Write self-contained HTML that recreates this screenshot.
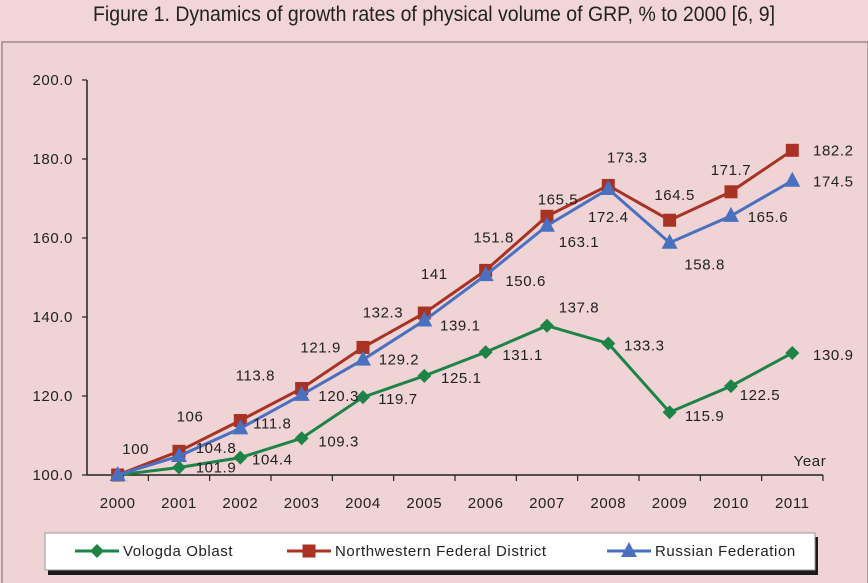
<!DOCTYPE html>
<html><head><meta charset="utf-8"><style>
html,body{margin:0;padding:0;background:#f1d5d7;}
svg{display:block;font-family:"Liberation Sans",sans-serif;}
#axes text,#series text,#legend text,#xtitle{letter-spacing:0.6px;}
</style></head><body>
<svg id="chart" width="868" height="583" viewBox="0 0 868 583" xmlns="http://www.w3.org/2000/svg">
<rect x="0" y="0" width="868" height="583" fill="#f1d5d7"/>
<text x="434" y="21" text-anchor="middle" font-size="21" fill="#222" textLength="682" lengthAdjust="spacingAndGlyphs">Figure 1. Dynamics of growth rates of physical volume of GRP, % to 2000 [6, 9]</text>
<rect x="2" y="42" width="866" height="545" fill="#f0d3d5" stroke="#a08a8c" stroke-width="1.5"/>
<g id="axes"></g>
<g id="series"></g>
<text id="xtitle" x="810" y="466" text-anchor="middle" font-size="15" fill="#222">Year</text>
<rect x="48" y="537" width="770" height="38" fill="#1a1a1a"/>
<rect x="45" y="533" width="770" height="37" fill="#fff" stroke="#999" stroke-width="1"/>
<g id="legend"></g>
</svg>
<script>
const years = ["2000","2001","2002","2003","2004","2005","2006","2007","2008","2009","2010","2011"];
const vologda = [100,101.9,104.4,109.3,119.7,125.1,131.1,137.8,133.3,115.9,122.5,130.9];
const northwest = [100,106,113.8,121.9,132.3,141,151.8,165.5,173.3,164.5,171.7,182.2];
const russia = [100,104.8,111.8,120.3,129.2,139.1,150.6,163.1,172.4,158.8,165.6,174.5];
const yTicks = [100,120,140,160,180,200];
const seriesNames = ["Vologda Oblast","Northwestern Federal District","Russian Federation"];

const NS="http://www.w3.org/2000/svg";
const X0=87, STEP=61.33, Y0=475, YMIN=100, YMAX=200, YH=395;
function xPos(i){return X0+STEP*(i+0.5);}
function yPos(v){return Y0-(v-YMIN)/(YMAX-YMIN)*YH;}
function mk(tag,attrs,parent){const e=document.createElementNS(NS,tag);for(const k in attrs)e.setAttribute(k,attrs[k]);parent.appendChild(e);return e;}
const axes=document.getElementById('axes'), ser=document.getElementById('series'), leg=document.getElementById('legend');

let l=mk('line',{x1:X0,y1:yPos(YMAX),x2:X0,y2:Y0,stroke:'#222','stroke-width':1.5},axes);


l=mk('line',{x1:X0,y1:Y0,x2:X0+STEP*years.length,y2:Y0,stroke:'#222','stroke-width':1.5},axes);


yTicks.forEach(v=>{
  mk('line',{x1:X0-5,y1:yPos(v),x2:X0,y2:yPos(v),stroke:'#222','stroke-width':1.2},axes);
  const t=mk('text',{x:X0-14,y:yPos(v)+5,'text-anchor':'end','font-size':15,fill:'#222'},axes);
  t.textContent=v.toFixed(1);
  
  
});
years.forEach((y,i)=>{
  mk('line',{x1:X0+STEP*(i+1),y1:Y0,x2:X0+STEP*(i+1),y2:Y0+6,stroke:'#222','stroke-width':1.2},axes);
  const t=mk('text',{x:xPos(i),y:Y0+33,'text-anchor':'middle','font-size':15,fill:'#222'},axes);
  t.textContent=y;
  
  
});

const offV=[null,[37,0],[32,2],[37,3],[35,2],[37,2],[37,3],[32,-18],[36,2],[35,4],[29,9],[41,2]];
const offN=[[18,-26],[11,-35],[15,-45],[19,-41],[20,-35],[10,-39],[8,-33],[11,-17],[19,-28],[5,-25],[0,-22],[41,0]];
const offR=[null,[37,-8],[32,-5],[37,1],[36,0],[36,5],[40,6],[32,16],[0,28],[35,22],[37,1],[41,1]];

function marker(kind,x,y,color,parent){
  if(kind==='diamond') return mk('polygon',{points:`${x},${y-7} ${x+7},${y} ${x},${y+7} ${x-7},${y}`,fill:color},parent);
  if(kind==='square') return mk('rect',{x:x-6.5,y:y-6.5,width:13,height:13,fill:color},parent);
  return mk('polygon',{points:`${x},${y-9} ${x+8},${y+6} ${x-8},${y+6}`,fill:color},parent);
}
const defs=[
  {data:vologda,color:'#1e8346',kind:'diamond',off:offV,name:'vologda'},
  {data:northwest,color:'#a83224',kind:'square',off:offN,name:'northwest'},
  {data:russia,color:'#4a70c0',kind:'triangle',off:offR,name:'russia'}
];
defs.forEach(d=>{
  const g=mk('g',{},ser);
  
  
  const p=mk('polyline',{points:d.data.map((v,i)=>xPos(i)+','+yPos(v)).join(' '),fill:'none',stroke:d.color,'stroke-width':3},g);
  
  
  d.data.forEach((v,i)=>{
    const m=marker(d.kind,xPos(i),yPos(v),d.color,g);
    
    
  });
});
defs.forEach(d=>{
  d.data.forEach((v,i)=>{
    const o=d.off[i]; if(!o) return;
    const t=mk('text',{x:xPos(i)+o[0],y:yPos(v)+o[1]+5,'text-anchor':'middle','font-size':15,fill:'#222'},ser);
    t.textContent=String(v);
    
    
  });
});
const legX=[75,287,607];
defs.forEach((d,k)=>{
  const g=mk('g',{},leg);
  
  
  mk('line',{x1:legX[k],y1:551,x2:legX[k]+44,y2:551,stroke:d.color,'stroke-width':3},g);
  marker(d.kind,legX[k]+22,551,d.color,g);
  const t=mk('text',{x:legX[k]+48,y:556,'font-size':15,fill:'#222'},g);
  t.textContent=seriesNames[k];
});
</script>
</body></html>
